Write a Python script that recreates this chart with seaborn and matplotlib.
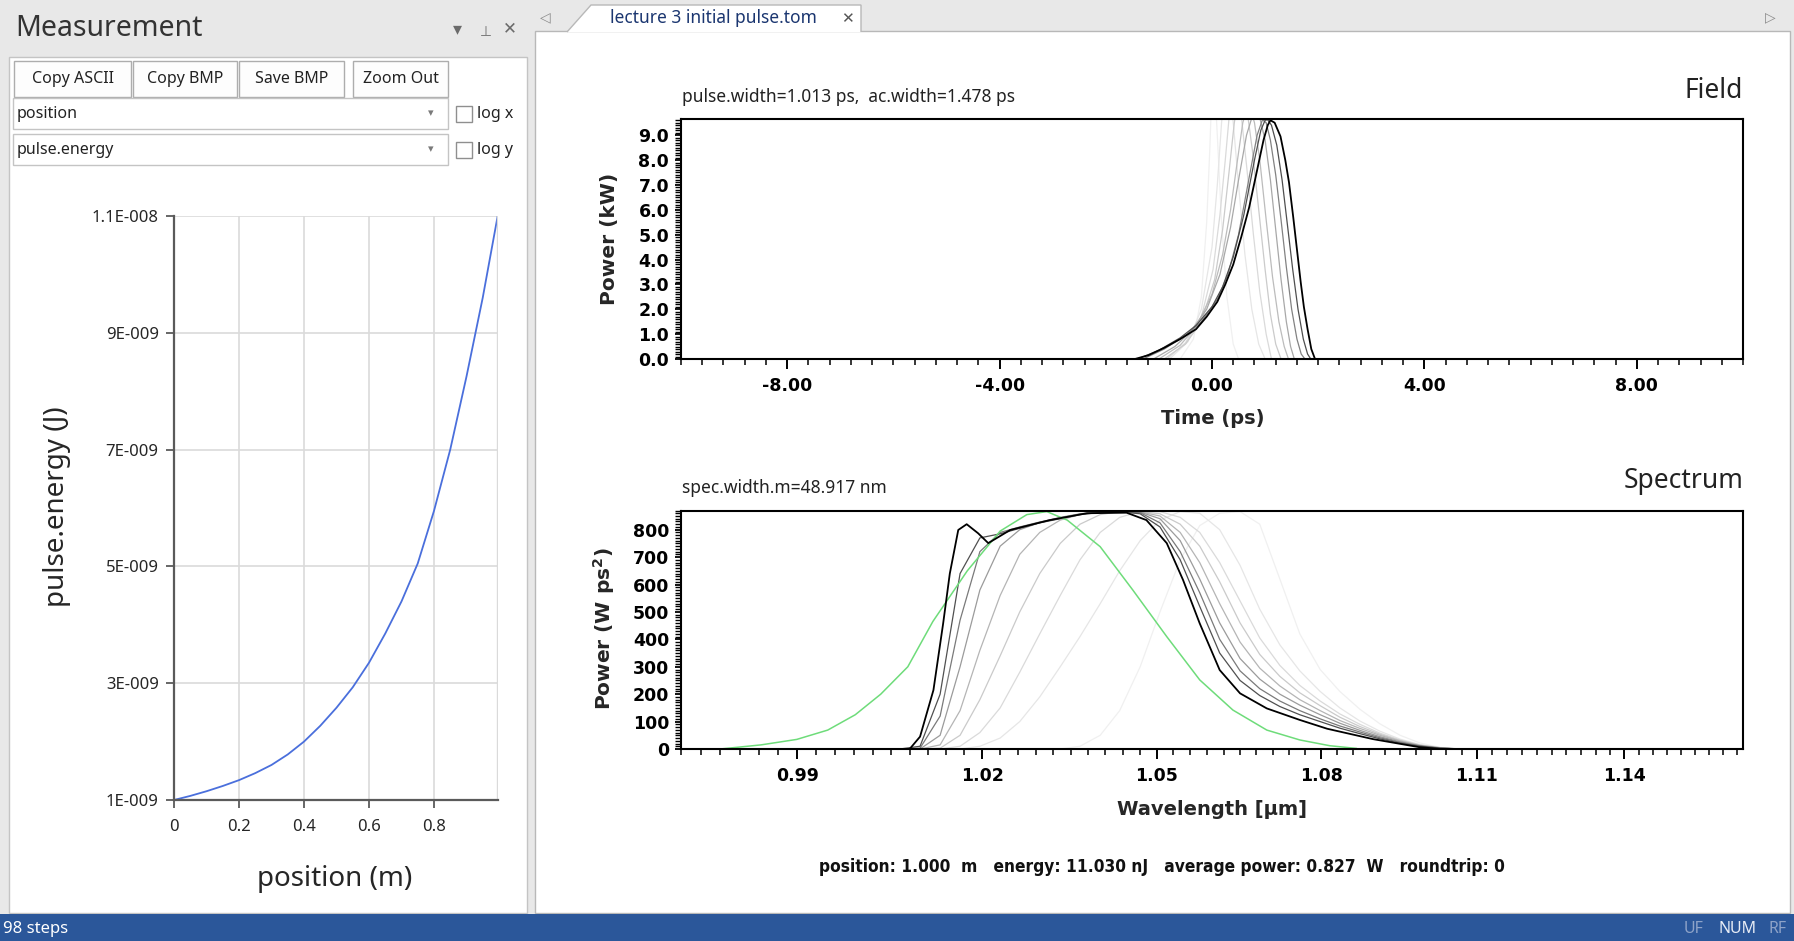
import numpy as np
import matplotlib
matplotlib.use("Agg")
import matplotlib.pyplot as plt
from matplotlib.patches import Rectangle, Polygon
from matplotlib.ticker import FixedLocator, MultipleLocator, FormatStrFormatter
import seaborn as sns

W, H = 1794, 941

# --- left panel: pulse energy along the fibre ---
position_m = [0, 0.05, 0.1, 0.15, 0.2, 0.25, 0.3, 0.35, 0.4, 0.45, 0.5, 0.55, 0.6, 0.65, 0.7,
              0.75, 0.8, 0.85, 0.9, 0.95, 0.997]
energy_nj = [1.0, 1.07, 1.15, 1.24, 1.34, 1.46, 1.6, 1.78, 2.0, 2.27, 2.58, 2.93, 3.35, 3.85, 4.4,
             5.05, 5.95, 7.0, 8.25, 9.6, 11.03]
position_ticks = [0, 0.2, 0.4, 0.6, 0.8]
energy_ticks = [1e-9, 3e-9, 5e-9, 7e-9, 9e-9, 1.1e-8]
energy_tick_labels = ["1E-009", "3E-009", "5E-009", "7E-009", "9E-009", "1.1E-008"]

# --- field: power (kW) vs time (ps), earlier roundtrips first ---
field_t_a = [-0.6, -0.35, -0.2, -0.1, -0.04, 0.0, 0.05, 0.1, 0.18, 0.28, 0.4, 0.5]
field_p_a = [0, 0.8, 2.5, 5.5, 8.5, 11, 11, 9, 5.5, 2.5, 0.6, 0]
field_t_b = [-0.8, -0.45, -0.2, 0.0, 0.1, 0.18, 0.25, 0.32, 0.4, 0.5, 0.62, 0.75, 0.88, 1.0]
field_p_b = [0, 0.7, 2.0, 4.5, 7.0, 9.5, 11, 11, 9.5, 7.0, 4.2, 2.0, 0.6, 0]
field_t_bc = [-0.85, -0.5, -0.2, 0.02, 0.15, 0.25, 0.33, 0.4, 0.47, 0.55, 0.65, 0.78, 0.9, 1.02, 1.12]
field_p_bc = [0, 0.65, 1.7, 3.6, 5.8, 8.0, 9.9, 10.8, 10.8, 9.8, 7.8, 5.0, 2.7, 1.0, 0]
field_t_c = [-0.9, -0.5, -0.2, 0.05, 0.2, 0.32, 0.42, 0.5, 0.58, 0.66, 0.76, 0.88, 1.0, 1.1, 1.2, 1.3]
field_p_c = [0, 0.6, 1.5, 3.2, 5.2, 7.5, 9.5, 10.5, 10.6, 10.0, 8.4, 6.0, 3.6, 1.8, 0.6, 0]
field_t_cd = [-1.0, -0.6, -0.3, 0.0, 0.2, 0.35, 0.48, 0.58, 0.66, 0.72, 0.8, 0.9, 1.02, 1.14, 1.26, 1.36, 1.44]
field_p_cd = [0, 0.55, 1.3, 2.6, 4.2, 6.0, 8.0, 9.5, 10.1, 10.1, 9.5, 8.0, 5.6, 3.3, 1.5, 0.5, 0]
field_t_d = [-1.1, -0.7, -0.4, -0.1, 0.15, 0.35, 0.5, 0.65, 0.75, 0.82, 0.9, 1.0, 1.1, 1.2, 1.3, 1.4, 1.48, 1.55]
field_p_d = [0, 0.5, 1.1, 2.0, 3.4, 5.3, 7.2, 9.0, 9.7, 9.9, 9.7, 8.8, 7.2, 5.2, 3.2, 1.5, 0.5, 0]
field_t_e = [-1.3, -0.9, -0.5, -0.2, 0.1, 0.3, 0.5, 0.7, 0.85, 0.95, 1.02, 1.1, 1.2, 1.3, 1.4, 1.5, 1.6, 1.68, 1.75]
field_p_e = [0, 0.4, 0.95, 1.5, 2.4, 3.4, 5.0, 7.3, 9.0, 9.62, 9.5, 8.8, 7.4, 5.6, 3.7, 2.0, 0.8, 0.2, 0]
field_t_f = [-1.4, -1.0, -0.6, -0.3, 0.0, 0.2, 0.4, 0.6, 0.8, 0.92, 1.0, 1.05, 1.12, 1.22, 1.32, 1.42,
             1.52, 1.62, 1.72, 1.8, 1.86]
field_p_f = [0, 0.35, 0.85, 1.35, 2.1, 2.9, 4.1, 5.8, 8.0, 9.2, 9.6, 9.62, 9.4, 8.6, 7.2, 5.4,
             3.6, 2.0, 0.8, 0.2, 0]
field_t_end = [-1.45, -1.2, -0.9, -0.6, -0.3, -0.1, 0.1, 0.25, 0.4, 0.55, 0.7, 0.85, 0.97, 1.05, 1.1,
               1.18, 1.29, 1.38, 1.45, 1.53, 1.6, 1.67, 1.73, 1.8, 1.87, 1.94]
field_p_end = [0, 0.15, 0.45, 0.8, 1.2, 1.7, 2.3, 3.0, 3.8, 4.9, 6.1, 7.6, 8.8, 9.4, 9.6,
               9.5, 8.95, 8.0, 7.1, 5.7, 4.4, 3.1, 2.1, 1.2, 0.4, 0]

# --- spectrum: power (W ps^2) vs wavelength (um) ---
spec_grid_um = [1.0064, 1.0097, 1.0130, 1.0163, 1.0196, 1.0230, 1.0263, 1.0297, 1.0332, 1.0366,
                1.0401, 1.0435, 1.0471, 1.0506, 1.0542, 1.0577, 1.0613, 1.0650, 1.0686, 1.0723,
                1.0760, 1.0798, 1.0835, 1.0873, 1.0911, 1.0950, 1.0988, 1.1027, 1.1066]
spec_p_0 = [0, 0, 0, 0, 0, 0, 0, 0, 0, 10, 50, 140, 300, 500, 690, 815, 860, 866, 820, 620,
            420, 290, 210, 145, 92, 50, 22, 6, 0]
spec_p_1 = [0, 0, 0, 0, 10, 40, 100, 190, 300, 410, 530, 650, 760, 835, 866, 860, 800, 670, 510, 380,
            285, 210, 150, 102, 65, 36, 16, 5, 0]
spec_p_2 = [0, 0, 0, 10, 60, 150, 280, 420, 560, 690, 790, 845, 866, 866, 845, 790, 680, 540, 405, 305,
            232, 175, 128, 90, 58, 33, 15, 5, 0]
spec_p_3 = [0, 0, 3, 50, 180, 340, 500, 640, 750, 820, 855, 866, 866, 858, 820, 740, 610, 460, 345, 265,
            205, 158, 116, 82, 54, 31, 14, 5, 0]
spec_p_4 = [0, 0, 15, 140, 360, 560, 710, 790, 835, 855, 864, 866, 865, 850, 790, 680, 530, 390, 295, 230,
            180, 140, 104, 75, 50, 29, 13, 4, 0]
spec_p_5 = [0, 0, 50, 300, 580, 740, 800, 826, 845, 858, 865, 866, 864, 840, 760, 620, 460, 330, 255, 200,
            160, 125, 94, 68, 45, 26, 12, 4, 0]
spec_p_6 = [0, 3, 120, 470, 720, 790, 810, 828, 843, 857, 864, 866, 862, 825, 720, 570, 400, 285, 220, 175,
            140, 110, 84, 62, 41, 24, 11, 3, 0]
spec_p_7 = [0, 10, 200, 640, 770, 785, 805, 825, 840, 855, 863, 866, 858, 810, 690, 520, 350, 250, 195, 155,
            125, 100, 76, 56, 37, 21, 10, 3, 0]
spec_final_um = [1.0080, 1.0097, 1.0119, 1.0135, 1.0146, 1.0160, 1.0174, 1.0193, 1.0210, 1.0247, 1.0314,
                 1.0378, 1.0447, 1.0482, 1.0518, 1.0547, 1.0577, 1.0613, 1.0650, 1.0699, 1.0760, 1.0811,
                 1.0898, 1.0986, 1.1029]
spec_final_p = [0, 45, 215, 458, 640, 799, 820, 787, 751, 799, 835, 860, 862, 835, 751, 617, 458, 288,
                203, 148, 106, 74, 36, 7, 0]
spec_initial_um = [0.9780, 0.9843, 0.9899, 0.9948, 0.9992, 1.0033, 1.0077, 1.0118, 1.0175, 1.0230, 1.0275,
                   1.0309, 1.0344, 1.0401, 1.0458, 1.0518, 1.0577, 1.0637, 1.0699, 1.0760, 1.0816, 1.0867]
spec_initial_p = [0, 15, 35, 69, 125, 200, 300, 465, 650, 795, 855, 866, 835, 738, 580, 410, 252, 142,
                  69, 33, 12, 2]
wavelength_ticks = [0.99, 1.02, 1.05, 1.08, 1.11, 1.14]

buttons = ["Copy ASCII", "Copy BMP", "Save BMP", "Zoom Out"]
status_text = "position: 1.000  m   energy: 11.030 nJ   average power: 0.827  W   roundtrip: 0"


def px_rect(x0, y0, x1, y1):
    # pixel box (top-left origin) -> figure fraction
    return [x0 / W, 1 - y1 / H, (x1 - x0) / W, (y1 - y0) / H]


sns.set_theme(style="ticks")
plt.rcParams["font.family"] = ["Noto Sans", "DejaVu Sans"]
plt.rcParams["axes.unicode_minus"] = False

fig = plt.figure(figsize=(W / 100, H / 100), dpi=100)
fig.patch.set_facecolor("#e8e8e8")

# --- window chrome, drawn in pixel coordinates ---
ui = fig.add_axes([0, 0, 1, 1])
ui.set_xlim(0, W)
ui.set_ylim(H, 0)
ui.axis("off")
ui.add_patch(Rectangle((9, 57), 518, 856, fc="white", ec="#c4c4c4", lw=1))
ui.add_patch(Rectangle((535, 31), 1255, 882, fc="white", ec="#b8b8b8", lw=1))
ui.add_patch(Polygon([(567, 32), (591, 5), (861, 5), (861, 32)], closed=False,
                     fc="white", ec="#b8b8b8", lw=1))
ui.add_patch(Rectangle((0, 914), W, 27, fc="#2b579a", ec="none"))

ui.text(15, 28, "Measurement", fontsize=20.5, color="#333333", va="center")
ui.text(457, 29, "\u25BE", fontsize=13, color="#6b6b6b", ha="center", va="center", family="DejaVu Sans")
ui.text(484, 28, "\u22A4", fontsize=10, color="#6b6b6b", ha="center", va="center",
        family="DejaVu Sans", rotation=180)
ui.text(510, 28, "\u2715", fontsize=12, color="#6b6b6b", ha="center", va="center", family="DejaVu Sans")

bx = [(14, 131), (133, 237), (239, 344), (353, 448)]
for label, (x0, x1) in zip(buttons, bx):
    ui.add_patch(Rectangle((x0, 61), x1 - x0, 36, fc="#fdfdfd", ec="#adadad", lw=1))
    ui.text((x0 + x1) / 2, 79, label, fontsize=11.5, color="#222222", ha="center", va="center")

for y0, label, chk in [(98, "position", "log x"), (134, "pulse.energy", "log y")]:
    ui.add_patch(Rectangle((13, y0), 435, 31, fc="white", ec="#c4c4c4", lw=1))
    ui.text(17, y0 + 15.5, label, fontsize=11.5, color="#222222", va="center")
    ui.text(431, y0 + 15, "\u25BE", fontsize=8, color="#7a7a7a", ha="center", va="center",
            family="DejaVu Sans")
    ui.add_patch(Rectangle((456, y0 + 8), 16, 16, fc="white", ec="#8f8f8f", lw=1))
    ui.text(477, y0 + 16, chk, fontsize=11.5, color="#222222", va="center")

ui.text(545, 17, "\u25C1", fontsize=10, color="#8a8a8a", ha="center", va="center", family="DejaVu Sans")
ui.text(1770, 17, "\u25B7", fontsize=10, color="#8a8a8a", ha="center", va="center", family="DejaVu Sans")
ui.text(610, 18, "lecture 3 initial pulse.tom", fontsize=12.5, color="#1b3670", va="center",
        fontweight="semibold")
ui.text(847, 19, "\u2715", fontsize=11, color="#555555", ha="center", va="center", family="DejaVu Sans")

ui.text(1162, 872, status_text, fontsize=12.4, fontweight="bold", ha="center", va="baseline",
        family="DejaVu Sans", fontstretch="condensed", color="#111111")
ui.text(3, 929, "98 steps", fontsize=12, color="white", va="center")
ui.text(1694, 929, "UF", fontsize=11.5, color="#8ea3c8", ha="center", va="center")
ui.text(1737, 929, "NUM", fontsize=11.5, color="#e8edf6", ha="center", va="center")
ui.text(1778, 929, "RF", fontsize=11.5, color="#8ea3c8", ha="center", va="center")

# --- left chart: pulse.energy vs position ---
ax_e = fig.add_axes(px_rect(174, 216, 498, 800))
ax_e.set_zorder(2)
energy_j = [e * 1e-9 for e in energy_nj]
sns.lineplot(x=position_m, y=energy_j, ax=ax_e, color="#4a6fdc", lw=1.3, sort=False, estimator=None)
ax_e.set_xlim(0, 0.997)
ax_e.set_ylim(1e-9, 1.1e-8)
ax_e.xaxis.set_major_locator(FixedLocator(position_ticks))
ax_e.set_xticklabels([f"{p:g}" for p in position_ticks])
ax_e.yaxis.set_major_locator(FixedLocator(energy_ticks))
ax_e.set_yticklabels(energy_tick_labels)
ax_e.grid(True, color="#dadada", lw=1.2)
ax_e.axvline(0.997, color="#dadada", lw=2.4)
ax_e.set_axisbelow(True)
for side in ["top", "right"]:
    ax_e.spines[side].set_visible(False)
for side in ["left", "bottom"]:
    ax_e.spines[side].set_color("#5a5a5a")
    ax_e.spines[side].set_linewidth(1.6)
ax_e.tick_params(direction="out", length=6, width=1.3, color="#5a5a5a", labelsize=12,
                 bottom=True, left=True)
ax_e.tick_params(axis="y", pad=5)
ax_e.tick_params(axis="x", pad=8)
ax_e.set_xlabel("position (m)", fontsize=20, va="center")
ax_e.set_ylabel("pulse.energy (J)", fontsize=20, va="center")
ax_e.xaxis.set_label_coords(0.497, -0.135)
ax_e.yaxis.set_label_coords(-0.361, 0.502)


def style_sim_axes(ax):
    ax.set_zorder(2)
    for s in ax.spines.values():
        s.set_color("black")
        s.set_linewidth(1.5)
    ax.tick_params(which="both", direction="out", bottom=True, left=True, top=False, right=False,
                   color="black", labelsize=12.5, labelcolor="black")
    ax.tick_params(axis="x", which="major", length=7, width=1.4, pad=6)
    ax.tick_params(axis="x", which="minor", length=4, width=1.1)
    ax.tick_params(axis="y", which="major", length=4.5, width=1.3, pad=4)
    ax.tick_params(axis="y", which="minor", length=4, width=1.0)


# --- field ---
ax_f = fig.add_axes(px_rect(681, 119, 1743, 359))
field_family = [(field_t_a, field_p_a), (field_t_b, field_p_b), (field_t_bc, field_p_bc),
                (field_t_c, field_p_c), (field_t_cd, field_p_cd), (field_t_d, field_p_d),
                (field_t_e, field_p_e), (field_t_f, field_p_f)]
field_shades = ["#f0f0f0", "#e6e6e6", "#dadada", "#cbcbcb", "#bcbcbc", "#a8a8a8", "#828282", "#4f4f4f"]
for (t, p), c in zip(field_family, field_shades):
    sns.lineplot(x=t, y=p, ax=ax_f, color=c, lw=0.9, sort=False, estimator=None)
sns.lineplot(x=field_t_end, y=field_p_end, ax=ax_f, color="black", lw=1.3, sort=False, estimator=None)
ax_f.set_xlim(-10, 10)
ax_f.set_ylim(0, 9.65)
ax_f.xaxis.set_major_locator(MultipleLocator(4))
ax_f.xaxis.set_minor_locator(MultipleLocator(0.4))
ax_f.xaxis.set_major_formatter(FormatStrFormatter("%.2f"))
ax_f.yaxis.set_major_locator(MultipleLocator(1))
ax_f.yaxis.set_minor_locator(MultipleLocator(0.1))
ax_f.yaxis.set_major_formatter(FormatStrFormatter("%.1f"))
style_sim_axes(ax_f)
ax_f.set_xlabel("Time (ps)", fontsize=14, fontweight="bold", family="DejaVu Sans", va="center")
ax_f.set_ylabel("Power (kW)", fontsize=14.5, fontweight="bold", family="DejaVu Sans", va="center")
ax_f.xaxis.set_label_coords(0.501, -0.25)
ax_f.yaxis.set_label_coords(-0.067, 0.5)
ax_f.text(1.0, (359 - 98) / 240, "Field", transform=ax_f.transAxes, ha="right", va="baseline",
          fontsize=19, color="#222222")
ax_f.text(0.001, (359 - 102) / 240, "pulse.width=1.013 ps,  ac.width=1.478 ps", transform=ax_f.transAxes,
          ha="left", va="baseline", fontsize=12.5, color="#222222")

# --- spectrum (frequency grid, wavelength labels) ---
ax_s = fig.add_axes(px_rect(681, 510.5, 1743, 749))
ax_s.set_xscale("function", functions=(lambda x: -1.0 / np.asarray(x, float),
                                       lambda u: -1.0 / np.asarray(u, float)))
spec_family = [spec_p_0, spec_p_1, spec_p_2, spec_p_3, spec_p_4, spec_p_5, spec_p_6, spec_p_7]
spec_shades = ["#f0f0f0", "#e6e6e6", "#dadada", "#cacaca", "#b5b5b5", "#9b9b9b", "#7a7a7a", "#505050"]
for p, c in zip(spec_family, spec_shades):
    sns.lineplot(x=spec_grid_um, y=p, ax=ax_s, color=c, lw=0.9, sort=False, estimator=None)
sns.lineplot(x=spec_initial_um, y=spec_initial_p, ax=ax_s, color="#6edc7a", lw=1.1, sort=False,
             estimator=None)
sns.lineplot(x=spec_final_um, y=spec_final_p, ax=ax_s, color="black", lw=1.3, sort=False, estimator=None)
ax_s.set_xlim(0.9720, 1.1653)
ax_s.set_ylim(0, 870)
ax_s.xaxis.set_major_locator(FixedLocator(wavelength_ticks))
ax_s.xaxis.set_minor_locator(FixedLocator(np.round(np.arange(0.972, 1.1655, 0.003), 4)))
ax_s.xaxis.set_major_formatter(FormatStrFormatter("%.2f"))
ax_s.xaxis.set_minor_formatter(FormatStrFormatter(""))
ax_s.yaxis.set_major_locator(MultipleLocator(100))
ax_s.yaxis.set_minor_locator(MultipleLocator(10))
ax_s.yaxis.set_major_formatter(FormatStrFormatter("%d"))
style_sim_axes(ax_s)
ax_s.set_xlabel("Wavelength [\u00b5m]", fontsize=14, fontweight="bold", family="DejaVu Sans", va="center")
ax_s.set_ylabel(r"Power (W ps$^\mathbf{2}$)", fontsize=14.5, fontweight="bold", family="DejaVu Sans",
                va="center")
ax_s.xaxis.set_label_coords(0.5, -0.252)
ax_s.yaxis.set_label_coords(-0.0725, 0.503)
ax_s.text(1.0, (749 - 488) / 238.5, "Spectrum", transform=ax_s.transAxes, ha="right", va="baseline",
          fontsize=19, color="#222222")
ax_s.text(0.001, (749 - 493) / 238.5, "spec.width.m=48.917 nm", transform=ax_s.transAxes,
          ha="left", va="baseline", fontsize=12.5, color="#222222")

for ax in (ax_f, ax_s):
    for lbl in ax.get_xticklabels() + ax.get_yticklabels():
        lbl.set_fontweight("bold")
        lbl.set_family("DejaVu Sans")

fig.savefig("out.png", dpi=100, facecolor=fig.get_facecolor())
